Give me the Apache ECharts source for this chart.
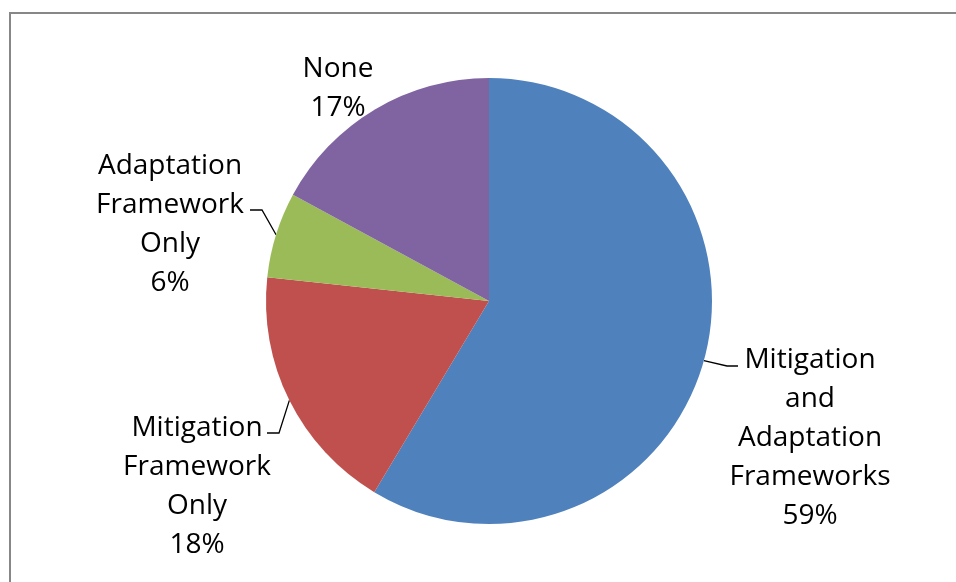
<!DOCTYPE html>
<html>
<head>
<meta charset="utf-8">
<script src="https://cdn.jsdelivr.net/npm/echarts@6/dist/echarts.min.js"></script>
<style>html,body{margin:0;padding:0;background:#fff;}#c{width:956px;height:582px;}</style>
</head>
<body>
<div id="c"></div>
<script>
const categories = ["Mitigation\nand\nAdaptation\nFrameworks", "Mitigation\nFramework\nOnly", "Adaptation\nFramework\nOnly", "None"];
const values = [58.6, 18.1, 6.2, 17.1];
const colors = ["#4F81BD", "#C0504D", "#9BBB59", "#8064A2"];

// label layout: text center x, top y, and leader geometry (bend, end)
const labelPos = [
  {x: 810, y: 341, bend: [727, 366], end: [738, 366]},
  {x: 197, y: 409, bend: [279, 433], end: [267, 433]},
  {x: 170, y: 147, bend: [262, 210], end: [250, 210]},
  {x: 338, y: 50, bend: null, end: null}
];

const chart = echarts.init(document.getElementById('c'), null, {renderer: 'canvas'});
chart.setOption({
  animation: false,
  backgroundColor: '#fff',
  graphic: [{
    type: 'rect',
    shape: {x: 10, y: 13, width: 1000, height: 1000},
    style: {fill: 'none', stroke: '#878787', lineWidth: 2},
    silent: true
  }],
  series: [{
    type: 'pie',
    center: [489, 301],
    radius: 223,
    startAngle: 90,
    clockwise: true,
    avoidLabelOverlap: false,
    data: categories.map((c, i) => ({
      name: c,
      value: values[i],
      itemStyle: {color: colors[i]},
      labelLine: {show: labelPos[i].bend !== null}
    })),
    label: {
      show: true,
      position: 'outside',
      formatter: p => p.name + '\n' + Math.round(p.percent) + '%',
      fontFamily: 'Open Sans',
      fontSize: 28,
      lineHeight: 39,
      color: '#000',
      align: 'center'
    },
    labelLine: {
      show: true,
      length: 10,
      length2: 10,
      lineStyle: {color: '#000', width: 1.3}
    },
    labelLayout: function (params) {
      const lp = labelPos[params.dataIndex];
      const res = {x: lp.x, y: lp.y, align: 'center', verticalAlign: 'top'};
      if (lp.bend && params.labelLinePoints) {
        res.labelLinePoints = [params.labelLinePoints[0], lp.bend, lp.end];
      }
      return res;
    }
  }]
});
</script>
</body>
</html>
